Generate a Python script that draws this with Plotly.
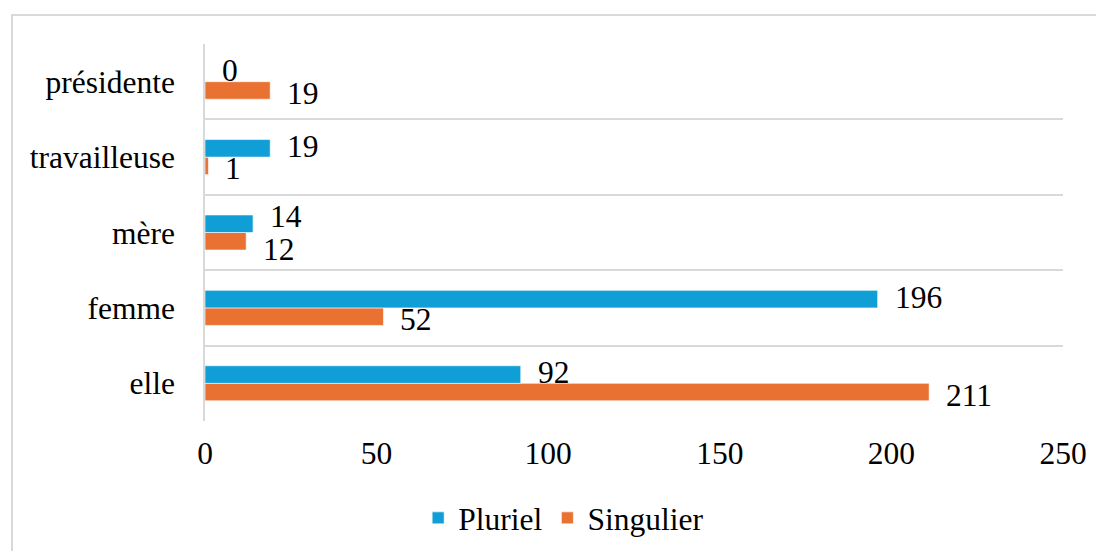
import plotly.graph_objects as go

categories = ["elle", "femme", "mère", "travailleuse", "présidente"]
pluriel = [92, 196, 14, 19, 0]
singulier = [211, 52, 12, 1, 19]
x_ticks = [0, 50, 100, 150, 200, 250]

BLUE = "#0F9ED5"
ORANGE = "#E97132"
FONT = '"Liberation Serif", "Times New Roman", Times, serif'
FS = 31.5

W, H = 1104, 551
ML, MT = 197, 36
PW, PH = 858, 377
MR = W - ML - PW
MB = H - MT - PH
BARGAP = 0.535
half_bar = PH / len(categories) * (1 - BARGAP) / 4

fig = go.Figure()
fig.add_trace(go.Bar(
    name="Singulier", y=categories, x=singulier, orientation="h",
    marker=dict(color=ORANGE, line=dict(color="rgba(255,255,255,0.6)", width=1)),
    legendrank=2,
))
fig.add_trace(go.Bar(
    name="Pluriel", y=categories, x=pluriel, orientation="h",
    marker=dict(color=BLUE, line=dict(color="rgba(255,255,255,0.6)", width=1)),
    legendrank=1,
))

annotations = []
for cat, p, s in zip(categories, pluriel, singulier):
    # push labels apart when both bar ends are close together (as Excel does)
    crowd = 5 if abs(p - s) < 10 else 0
    annotations.append(dict(x=p, y=cat, text=str(p), showarrow=False,
                            xanchor="left", yanchor="middle", xshift=15,
                            yshift=half_bar + 2 + crowd, font=dict(family=FONT, size=FS, color="black")))
    annotations.append(dict(x=s, y=cat, text=str(s), showarrow=False,
                            xanchor="left", yanchor="middle", xshift=15,
                            yshift=-half_bar - 3 - crowd, font=dict(family=FONT, size=FS, color="black")))

fig.update_layout(
    width=W, height=H,
    margin=dict(l=ML, r=MR, t=MT, b=MB, pad=0, autoexpand=False),
    paper_bgcolor="white", plot_bgcolor="white",
    barmode="group", bargap=BARGAP, bargroupgap=0,
    font=dict(family=FONT, size=FS, color="black"),
    xaxis=dict(range=[0, 250], tickvals=x_ticks, showgrid=False, zeroline=False,
               showline=False, ticks="", ticklabelstandoff=10,
               tickfont=dict(family=FONT, size=FS, color="black")),
    yaxis=dict(categoryorder="array", categoryarray=categories, tickson="boundaries",
               showgrid=True, gridcolor="#d9d9d9", gridwidth=1.5,
               showline=True, linecolor="#d9d9d9", linewidth=1.5,
               ticks="", ticklabelstandoff=22, range=[-0.5, 4.5],
               tickfont=dict(family=FONT, size=FS, color="black")),
    legend=dict(orientation="h", x=0.418, xanchor="center", y=-0.257, yanchor="middle",
                font=dict(family=FONT, size=FS, color="black"), itemwidth=30,
                bgcolor="rgba(0,0,0,0)"),
    annotations=annotations,
    shapes=[dict(type="rect", xref="paper", yref="paper",
                 x0=(4 - ML) / PW, x1=1.2,
                 y0=-0.6, y1=(PH + MT - 7) / PH,
                 line=dict(color="#d9d9d9", width=2), fillcolor="rgba(0,0,0,0)", layer="below")],
)

fig.write_html("out.html")
